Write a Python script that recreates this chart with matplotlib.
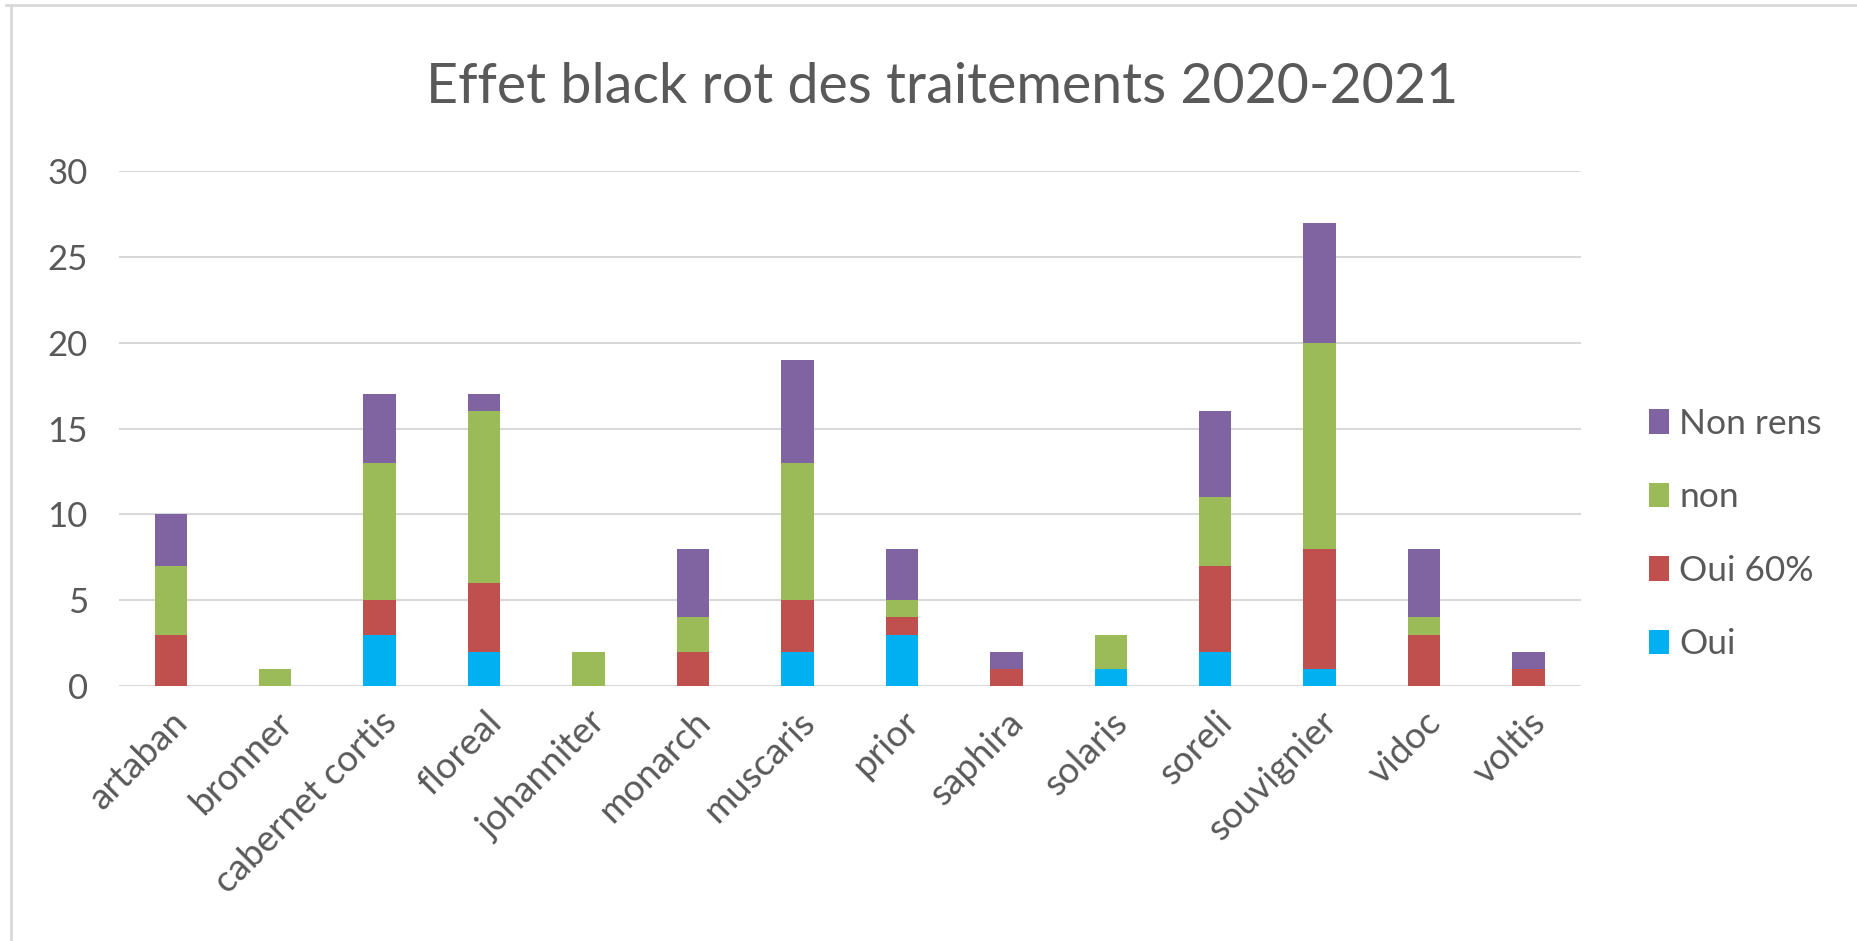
import matplotlib.pyplot as plt
import numpy as np
from matplotlib.lines import Line2D

plt.rcParams['font.family'] = ['Lato', 'DejaVu Sans']

cepages = ['artaban', 'bronner', 'cabernet cortis', 'floreal', 'johanniter',
           'monarch', 'muscaris', 'prior', 'saphira', 'solaris', 'soreli',
           'souvignier', 'vidoc', 'voltis']
oui = [0, 0, 3, 2, 0, 0, 2, 3, 0, 1, 2, 1, 0, 0]
oui_60 = [3, 0, 2, 4, 0, 2, 3, 1, 1, 0, 5, 7, 3, 1]
non = [4, 1, 8, 10, 2, 2, 8, 1, 0, 2, 4, 12, 1, 0]
non_rens = [3, 0, 4, 1, 0, 4, 6, 3, 1, 0, 5, 7, 4, 1]

series = [('Oui', oui, '#00B0F0'),
          ('Oui 60%', oui_60, '#C0504D'),
          ('non', non, '#9BBB59'),
          ('Non rens', non_rens, '#8064A2')]

fig = plt.figure(figsize=(18.58, 9.41), dpi=100)
ax = fig.add_axes([0.0638, 0.271, 0.787, 0.547])

x = np.arange(len(cepages))
bottom = np.zeros(len(cepages))
for name, vals, color in series:
    ax.bar(x, vals, width=0.31, bottom=bottom, color=color, label=name, zorder=3)
    bottom += np.array(vals)

ax.set_ylim(0, 30)
ax.set_xlim(-0.5, len(cepages) - 0.5)
ax.set_yticks(range(0, 31, 5))
ax.yaxis.grid(True, color='#d9d9d9', linewidth=1.5, zorder=0)
for s in ax.spines.values():
    s.set_visible(False)
ax.tick_params(axis='both', length=0, labelsize=25, labelcolor='#595959')
ax.tick_params(axis='y', pad=22)
ax.tick_params(axis='x', pad=14, labelsize=26.5)
ax.set_xticks(x)
ax.set_xticklabels(cepages, rotation=45, ha='right', rotation_mode='anchor')

handles, labels = ax.get_legend_handles_labels()
ax.legend(handles[::-1], labels[::-1], loc='center left', bbox_to_anchor=(1.025, 0.295),
          frameon=False, fontsize=25.5, labelcolor='#595959', handlelength=0.55,
          handleheight=0.7, handletextpad=0.3, labelspacing=1.17)

fig.text(0.507, 0.907, 'Effet black rot des traitements 2020-2021', ha='center',
         va='center', fontsize=40, color='#595959')

# cadre du graphique
fig.add_artist(Line2D([0.003, 1], [0.995, 0.995], color='#d9d9d9', linewidth=2,
                      transform=fig.transFigure))
fig.add_artist(Line2D([0.006, 0.006], [0, 0.995], color='#d9d9d9', linewidth=2,
                      transform=fig.transFigure))

plt.savefig('out.png', dpi=100)
